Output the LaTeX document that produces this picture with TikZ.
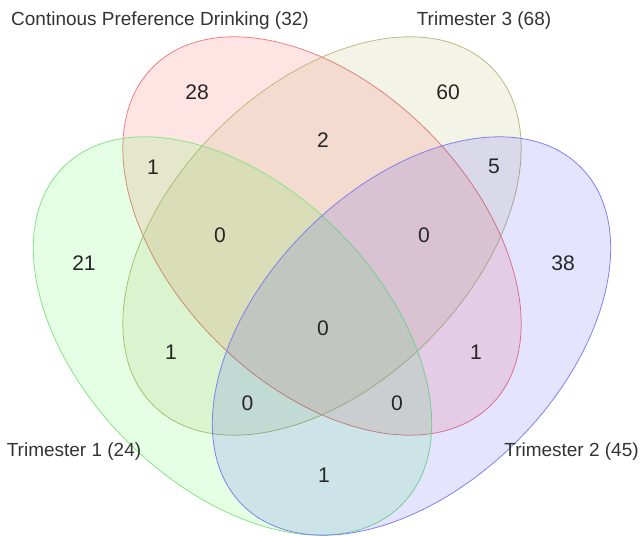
\documentclass[tikz,border=0pt]{standalone}
\usepackage{fontspec}
\setmainfont{Liberation Sans}
\definecolor{linhaCPD}{RGB}{238,125,125}
\definecolor{linhaT3}{RGB}{185,185,120}
\definecolor{linhaT1}{RGB}{130,228,130}
\definecolor{linhaT2}{RGB}{125,125,238}
\definecolor{corT3}{RGB}{140,140,30}

\begin{document}
\begin{tikzpicture}[x=0.025cm,y=0.025cm,
    conj/.style={line width=0.55pt,fill opacity=0.105},
    rotulo/.style={font=\fontsize{13.5}{16}\selectfont,text=black!80},
    num/.style={font=\fontsize{15}{18}\selectfont,text=black!85}]
    % area
    \useasboundingbox (0,0) rectangle (642,536);

    % conjuntos
    \draw[conj,draw=linhaCPD,fill=red,rotate around={-45:(322,300)}] (322,300) ellipse [x radius=239,y radius=149];
    \draw[conj,draw=linhaT3,fill=corT3,rotate around={45:(322,300)}] (322,300) ellipse [x radius=239,y radius=149];
    \draw[conj,draw=linhaT1,fill=green,rotate around={-45:(232.5,200)}] (232.5,200) ellipse [x radius=239,y radius=149];
    \draw[conj,draw=linhaT2,fill=blue,rotate around={45:(411.5,200)}] (411.5,200) ellipse [x radius=239,y radius=149];

    % nomes
    \node[rotulo] (cpd) at (160,515.5) {Continous Preference Drinking (32)};
    \node[rotulo] (tri3) at (484,515.5) {Trimester 3 (68)};
    \node[rotulo] (tri1) at (74,84) {Trimester 1 (24)};
    \node[rotulo] (tri2) at (571.5,84) {Trimester 2 (45)};

    % contagens
    \node[num] (a28) at (197,444.2) {28};
    \node[num] (a60) at (448,444.2) {60};
    \node[num] (a2) at (323,396.3) {2};
    \node[num] (a1cpd) at (153,369.2) {1};
    \node[num] (a5) at (494,369.2) {5};
    \node[num] (a0l) at (220,300.4) {0};
    \node[num] (a0r) at (424,300.4) {0};
    \node[num] (a21) at (84,273) {21};
    \node[num] (a38) at (563,273) {38};
    \node[num] (a0c) at (323,208) {0};
    \node[num] (a1l) at (171,184) {1};
    \node[num] (a1r) at (476,184) {1};
    \node[num] (a0bl) at (247.5,133) {0};
    \node[num] (a0br) at (397,133) {0};
    \node[num] (a1b) at (324,61) {1};
\end{tikzpicture}
\end{document}
